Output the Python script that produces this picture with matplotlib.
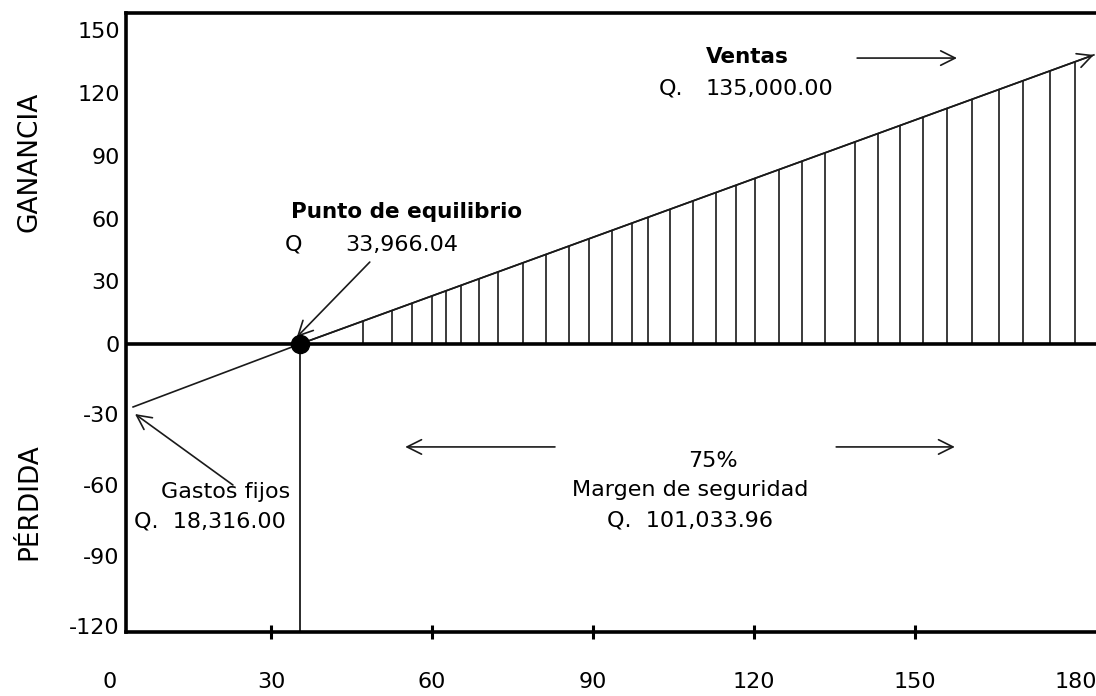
import numpy as np
import matplotlib.pyplot as plt

# linea de ventas: inicio (gastos fijos), punto de equilibrio, final (flecha)
sales_x = [4.3, 35.4, 183.3]
sales_y = [-26.8, 0, 138.3]
breakeven_x = 35.4

# rayado vertical de la zona de ganancia
hatch_x = [47.1, 52.5, 56.3, 60.0, 62.6, 65.4, 68.8, 72.3, 77.0, 81.2, 85.5,
           89.2, 93.5, 97.3, 100.2, 104.3, 108.6, 112.9, 116.6, 120.2, 124.7,
           128.9, 133.2, 138.8, 143.1, 147.2, 151.5, 156.0, 160.6, 165.6,
           170.1, 175.1, 179.8]

x_labels = [0, 30, 60, 90, 120, 150, 180]
x_marks = [30, 60, 90, 120, 150]
y_ticks = [150, 120, 90, 60, 30, 0, -30, -60, -90, -120]

# the picture stretches the loss side a bit more than the profit side
NEG = 2.35 / 2.09


def fwd(y):
    y = np.asarray(y, dtype=float)
    return np.where(y >= 0, y, y * NEG)


def inv(v):
    v = np.asarray(v, dtype=float)
    return np.where(v >= 0, v, v / NEG)


fig = plt.figure(figsize=(10.96, 6.96), dpi=100)
ax = fig.add_axes([0.11496, 0.09195, 0.88504, 0.88980])
ax.set_yscale('function', functions=(fwd, inv))
ax.set_xlim(2.98, 183.7)
ax.set_ylim(-122.55, 158.5)

for s in ['left', 'bottom', 'top']:
    ax.spines[s].set_linewidth(2.6)
ax.spines['right'].set_visible(False)
ax.axhline(0, color='black', lw=2.6, zorder=3)

ink = '#1a1a1a'
arrow = dict(arrowstyle='->', color=ink, lw=1.2, mutation_scale=26, shrinkA=0, shrinkB=0)

# ventas
ax.plot(sales_x, sales_y, color=ink, lw=1.2)
ax.annotate('', xy=(sales_x[-1], sales_y[-1]), xytext=(sales_x[1], sales_y[1]),
            arrowprops=arrow, annotation_clip=False)

region = ax.fill_between(sales_x[1:], 0, sales_y[1:], color='none', lw=0)
hatch = ax.vlines(hatch_x, 0, 160, color=ink, lw=1.2)
hatch.set_clip_path(region.get_paths()[0], ax.transData)

ax.plot([breakeven_x, breakeven_x], [0, -122.55], color=ink, lw=1.3)
ax.plot([breakeven_x], [0], 'o', color='black', ms=13, zorder=5)

# textos
ax.text(118.7, 137.3, 'Ventas', fontsize=15.5, fontweight='bold', ha='center', va='center')
ax.text(104.5, 122, 'Q.', fontsize=16, ha='center', va='center')
ax.text(110.9, 122, '135,000.00', fontsize=16, ha='left', va='center')
ax.annotate('', xy=(157.8, 136.8), xytext=(139.2, 136.8), arrowprops=arrow)

ax.text(55.3, 63.2, 'Punto de equilibrio', fontsize=15.5, fontweight='bold', ha='center', va='center')
ax.text(34.1, 47.4, 'Q', fontsize=16, ha='center', va='center')
ax.text(43.8, 47.4, '33,966.04', fontsize=16, ha='left', va='center')
ax.annotate('', xy=(34.8, 3.3), xytext=(48.4, 39.2), arrowprops=arrow)

ax.text(21.6, -63, 'Gastos fijos', fontsize=16, ha='center', va='center')
ax.text(18.6, -75.7, 'Q.  18,316.00', fontsize=16, ha='center', va='center')
ax.annotate('', xy=(4.66, -29.8), xytext=(22.9, -60), arrowprops=arrow)

ax.text(112.4, -49.8, '75%', fontsize=16, ha='center', va='center')
ax.text(108.1, -62.1, 'Margen de seguridad', fontsize=16, ha='center', va='center')
ax.text(108.1, -75.3, 'Q.  101,033.96', fontsize=16, ha='center', va='center')
ax.annotate('', xy=(55.0, -43.8), xytext=(82.9, -43.8), arrowprops=arrow)
ax.annotate('', xy=(157.4, -43.8), xytext=(135.3, -43.8), arrowprops=arrow)

# ejes
ax.set_yticks(y_ticks)
ax.set_yticklabels([str(v) for v in y_ticks])
ax.tick_params(axis='y', length=0, pad=4.5, labelsize=16)
ax.set_xticks(x_marks)
ax.set_xticklabels([''] * len(x_marks))
ax.tick_params(axis='x', direction='inout', length=10, width=2.2)
for v in x_labels:
    ax.text(v, -0.0807, str(v), fontsize=16, ha='center', va='center',
            transform=ax.get_xaxis_transform(), clip_on=False)

fig.text(0.0265, 0.767, 'GANANCIA', fontsize=19, rotation=90, ha='center', va='center')
fig.text(0.0265, 0.279, 'PÉRDIDA', fontsize=19, rotation=90, ha='center', va='center')

fig.savefig('out.png', dpi=100)
